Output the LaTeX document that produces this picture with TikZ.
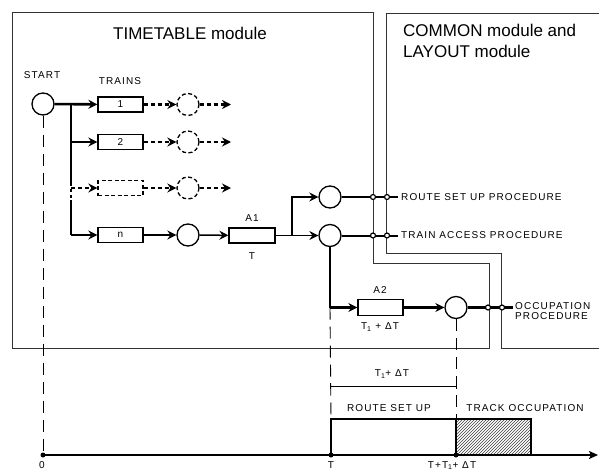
\documentclass[tikz,border=0pt]{standalone}
\usepackage{fontspec}
\setmainfont{Liberation Sans}
\newfontfamily\lblfont[LetterSpace=11]{Liberation Sans}
\usetikzlibrary{arrows.meta,patterns}
\tikzset{
  modline/.style={line width=0.8pt, draw=black!80},
  blk/.style={draw, line width=1.3pt, minimum width=45pt, minimum height=15pt, inner sep=0pt, font=\lblfont\fontsize{10}{12}\selectfont},
  place/.style={circle, draw, line width=1.3pt, minimum size=22pt, inner sep=0pt},
  dshape/.style={dash pattern=on 4pt off 2.5pt},
  medln/.style={line width=1.5pt},
  thkln/.style={line width=2.6pt},
  tip/.style={-{Stealth[length=9pt,width=9pt,inset=3pt]}},
  dotc/.style={circle, draw, fill=white, line width=1.2pt, minimum size=5pt, inner sep=0pt},
  txt/.style={font=\lblfont\fontsize{10}{11}\selectfont, inner sep=0pt},
  ttl/.style={font=\fontsize{17}{21}\selectfont, inner sep=0pt},
  timedash/.style={dash pattern=on 12pt off 7pt, line width=0.9pt},
  tdot/.style={circle, fill, inner sep=0pt, minimum size=5pt},
}
\begin{document}
\begin{tikzpicture}[x=1pt,y=-1pt]
\useasboundingbox (0,0) rectangle (599,471);
% module frames
\draw[modline] (12,12) -- (373,12) -- (373,263) -- (489,263) -- (489,348) -- (12,348) -- cycle;
\draw[modline] (599,13) -- (386,13) -- (386,253) -- (501,253) -- (501,348) -- (599,348);
\node[ttl] (tt) at (190,33) {TIMETABLE module};
\node[ttl, anchor=north west, align=left] (ct) at (403,24) {COMMON module and\\LAYOUT module};
% start and trains
\node[place] (start) at (43,104) {};
\node[txt] (startl) at (42,75) {START};
\node[txt] (trainsl) at (120,81) {TRAINS};
\node[blk] (b1) at (120.5,104.5) {1};
\node[blk] (b2) at (120.5,142) {2};
\node[blk, dshape] (b3) at (120.5,188) {};
\node[blk] (bn) at (120.5,235) {n};
\node[place, dshape] (c1) at (188,104.5) {};
\node[place, dshape] (c2) at (188,142) {};
\node[place, dshape] (c3) at (188,188) {};
\node[place] (cn) at (188,235) {};
\coordinate (e1) at (231,104.5);
\coordinate (e2) at (231,142);
\coordinate (e3) at (231,188);
% bus
\coordinate (bus1) at (71,104.5);
\coordinate (bus2) at (71,142);
\coordinate (bus3) at (71,188);
\coordinate (busn) at (71,235);
\draw[thkln, tip] (start) -- (b1);
\draw[thkln] (bus1) -- (71,183);
\draw[thkln, dash pattern=on 3pt off 3pt] (71,183) -- (71,200);
\draw[thkln, line cap=butt] (71,200) -- (busn);
\draw[medln, tip] (busn) -- (bn);
\draw[medln, tip] (bus2) -- (b2);
\draw[medln, tip, dash pattern=on 4pt off 3pt] (bus3) -- (b3);
% dashed continuations
\draw[thkln, tip, dash pattern=on 4pt off 3pt] (b1) -- (c1);
\draw[thkln, tip, dash pattern=on 4pt off 3pt] (c1) -- (e1);
\draw[medln, tip, dash pattern=on 4pt off 3pt] (b2) -- (c2);
\draw[medln, tip, dash pattern=on 4pt off 3pt] (c2) -- (e2);
\draw[medln, tip, dash pattern=on 4pt off 3pt] (b3) -- (c3);
\draw[medln, tip, dash pattern=on 4pt off 3pt] (c3) -- (e3);
% row n
\node[blk, minimum width=46pt] (a1) at (252,235.5) {};
\node[txt] (a1l) at (252,218) {A1};
\node[txt] (a1t) at (252,256) {T};
\draw[medln, tip] (bn) -- (cn);
\draw[medln, tip] (cn) -- (a1);
\coordinate (br) at (292,235.5);
\node[place] (cu) at (330,197) {};
\node[place] (cl) at (330,235.5) {};
\draw[medln] (a1.east) -- (br);
\draw[medln, tip] (br) |- (cu);
\draw[medln, tip] (br) -- (cl);
% outputs to procedures
\coordinate (ru) at (398,197);
\coordinate (rl) at (398,235.5);
\draw[thkln] (cu) -- (ru);
\draw[line width=2pt] (cl) -- (rl);
\node[dotc] (du1) at (373,197) {};
\node[dotc] (du2) at (387,197) {};
\node[dotc] (dl1) at (373,235.5) {};
\node[dotc] (dl2) at (387,235.5) {};
\node[txt, anchor=west] (rsp) at (401,197) {ROUTE SET UP PROCEDURE};
\node[txt, anchor=west] (tap) at (401,235.5) {TRAIN ACCESS PROCEDURE};
% A2 branch
\coordinate (corner) at (330,307.5);
\node[blk, minimum height=16pt] (a2) at (380.5,307.5) {};
\node[txt] (a2l) at (380,290) {A2};
\node[txt] (a2t) at (380,327) {T\textsubscript{1} + ΔT};
\node[place] (co) at (456,307.5) {};
\draw[thkln, line cap=butt] (cl.south) -- (corner);
\draw[thkln, tip] (corner) -- (a2);
\draw[thkln, tip] (a2) -- (co);
\coordinate (oe) at (513,307.5);
\draw[thkln] (co) -- (oe);
\node[dotc] (do1) at (488,307.5) {};
\node[dotc] (do2) at (502,307.5) {};
\node[txt, anchor=west, align=left] (ocp) at (515,311) {OCCUPATION\\[-1pt]PROCEDURE};
% time axis
\node[tdot] (t0) at (43,455) {};
\node[tdot] (tT) at (331,455) {};
\node[tdot] (tE) at (456,455) {};
\coordinate (tend) at (598,455);
\draw[line width=1.8pt, -{Stealth[length=9pt,width=8pt,inset=2pt]}] (t0.center) -- (tend);
\draw[timedash] (start.south) -- (t0.center);
\draw[timedash] (corner) -- (331,419);
\draw[timedash] (co.south) -- (456,419);
\draw[line width=2.2pt] (331,455) |- (456,419) -- (456,455);
\draw[line width=1.6pt, pattern=north east lines, pattern color=black!75] (456,419) rectangle (531,455);
\draw[line width=0.8pt, {Bar[width=6pt]}-{Bar[width=6pt]}] (330,386) -- (457,386);
\node[txt] (diml) at (392,374) {T\textsubscript{1}+ ΔT};
\node[txt] (rsu) at (389,408) {ROUTE SET UP};
\node[txt] (tro) at (525,408) {TRACK OCCUPATION};
\node[txt, anchor=north] (l0) at (42,461) {0};
\node[txt, anchor=north] (lT) at (331,461) {T};
\node[txt, anchor=north] (lE) at (452,461) {T+T\textsubscript{1}+ ΔT};
\end{tikzpicture}
\end{document}
